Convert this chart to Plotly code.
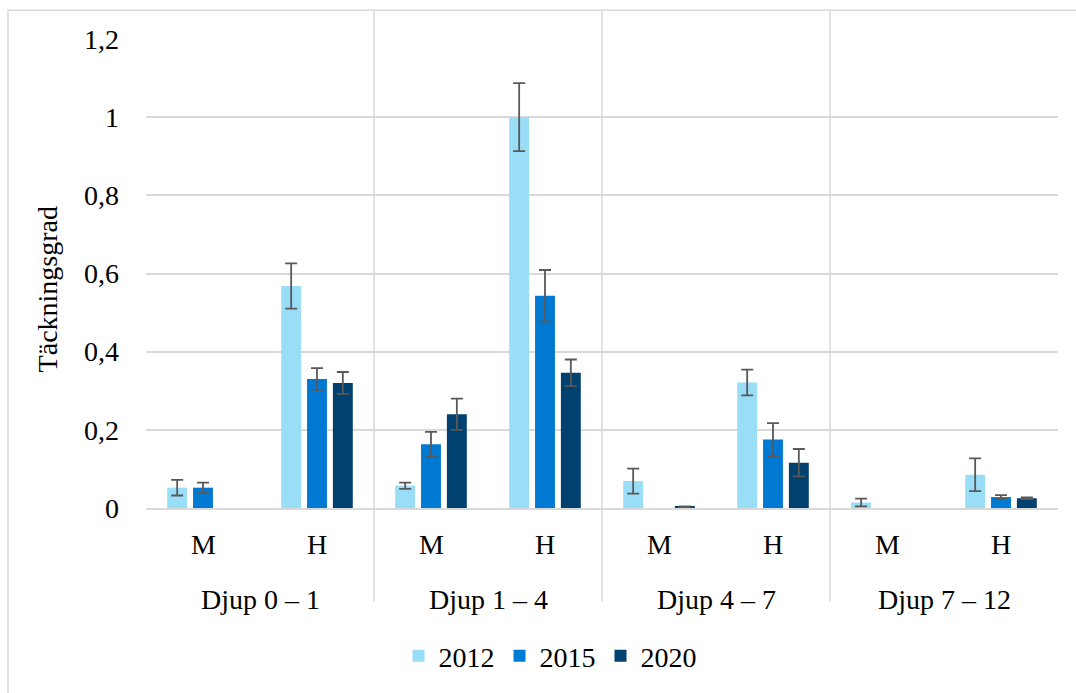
import plotly.graph_objects as go

# Category levels: depth interval and exposure class
djup = ["Djup 0 – 1", "Djup 0 – 1", "Djup 1 – 4", "Djup 1 – 4",
        "Djup 4 – 7", "Djup 4 – 7", "Djup 7 – 12", "Djup 7 – 12"]
klass = ["M", "H", "M", "H", "M", "H", "M", "H"]
djup_labels = ["Djup 0 – 1", "Djup 1 – 4", "Djup 4 – 7", "Djup 7 – 12"]

# Mean coverage per year, with error (±)
v2012 = [0.052, 0.568, 0.057, 1.000, 0.069, 0.321, 0.014, 0.085]
e2012 = [0.020, 0.058, 0.008, 0.087, 0.032, 0.033, 0.010, 0.042]
v2015 = [0.052, 0.330, 0.163, 0.543, None, 0.175, None, 0.028]
e2015 = [0.013, 0.028, 0.032, 0.066, 0.0, 0.042, 0.0, 0.005]
v2020 = [None, 0.320, 0.240, 0.346, 0.003, 0.116, None, 0.025]
e2020 = [0.0, 0.028, 0.040, 0.034, 0.001, 0.035, 0.0, 0.002]

years = ["2012", "2015", "2020"]
colors = ["#99DDF7", "#0079D2", "#00416F"]

y_tickvals = [0, 0.2, 0.4, 0.6, 0.8, 1.0, 1.2]
y_ticktext = ["0", "0,2", "0,4", "0,6", "0,8", "1", "1,2"]

FONT = "Liberation Serif, Times New Roman, serif"
FS = 28
GRID = "#D9D9D9"

fig = go.Figure()
for name, vals, errs, col in zip(years, [v2012, v2015, v2020],
                                 [e2012, e2015, e2020], colors):
    fig.add_trace(go.Bar(
        name=name,
        x=[djup, klass],
        y=vals,
        marker=dict(color=col, line=dict(width=0)),
        error_y=dict(type="data", array=errs, visible=True,
                     color="#595959", thickness=1.8, width=6),
    ))

# Plot-area dimensions in pixels
L, R, T, B = 146, 18, 39, 182
W, H = 1076, 693
pw, ph = W - L - R, H - T - B


def px_x(x):
    return (x - L) / pw


def px_y(y):
    return (H - B - y) / ph


n_cat = len(klass)
annotations = [dict(text="Täckningsgrad", xref="paper", yref="paper",
                    x=px_x(47), y=px_y(291), textangle=-90,
                    showarrow=False, xanchor="center", yanchor="middle",
                    font=dict(size=FS))]
# Two-level category labels under the axis
for i, k in enumerate(klass):
    annotations.append(dict(text=k, xref="paper", yref="paper",
                            x=(i + 0.5) / n_cat, y=px_y(548),
                            showarrow=False, xanchor="center",
                            yanchor="middle", font=dict(size=FS)))
for j, g in enumerate(djup_labels):
    annotations.append(dict(text=g, xref="paper", yref="paper",
                            x=(2 * j + 1) / n_cat, y=px_y(603),
                            showarrow=False, xanchor="center",
                            yanchor="middle", font=dict(size=FS)))

shapes = []
# Group separators running through the plot and label area
for j in range(1, len(djup_labels)):
    fx = 2 * j / n_cat
    shapes.append(dict(type="line", xref="paper", yref="paper",
                       x0=fx, x1=fx, y0=px_y(605), y1=px_y(10),
                       line=dict(color=GRID, width=1.5), layer="below"))
# Outer chart frame
shapes.append(dict(type="rect", xref="paper", yref="paper",
                   x0=px_x(8), x1=px_x(1100), y0=px_y(700), y1=px_y(10),
                   line=dict(color=GRID, width=1.5), layer="below"))

fig.update_layout(
    width=W, height=H,
    margin=dict(l=L, r=R, t=T, b=B),
    paper_bgcolor="white", plot_bgcolor="white",
    font=dict(family=FONT, size=FS, color="#000000"),
    barmode="group", bargap=0.32, bargroupgap=0.23,
    showlegend=True,
    legend=dict(orientation="h", xanchor="center", yanchor="middle",
                x=px_x(550), y=px_y(660), font=dict(size=FS),
                itemwidth=30, tracegroupgap=0),
    shapes=shapes,
    annotations=annotations,
)
fig.update_yaxes(range=[0, 1.2], tickvals=y_tickvals, ticktext=y_ticktext,
                 showgrid=True, gridcolor=GRID, gridwidth=1.5,
                 zeroline=False, showline=False, ticks="",
                 ticklabelstandoff=26)
fig.update_xaxes(type="multicategory", showgrid=False, showline=True,
                 linecolor=GRID, linewidth=1.5, ticks="",
                 showdividers=False, showticklabels=False,
                 range=[-0.5, n_cat - 0.5])

fig.write_html("out.html")
